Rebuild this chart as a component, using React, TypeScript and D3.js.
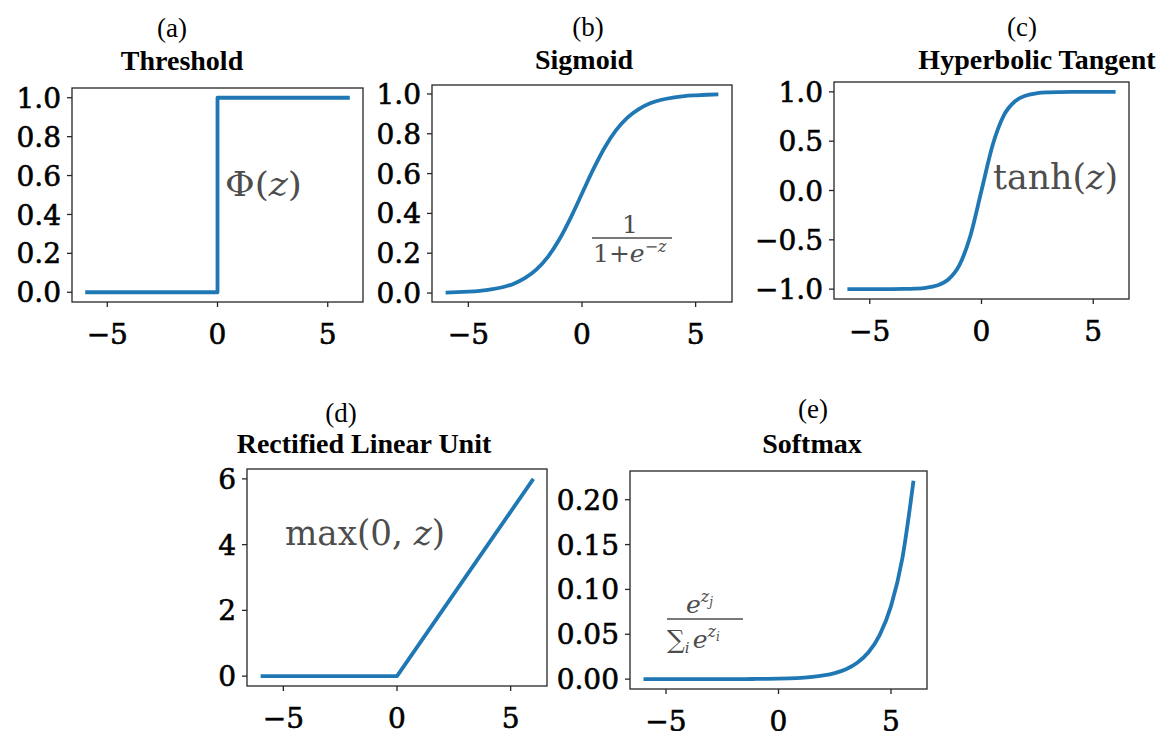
import * as d3 from "d3";

// sample grid shared by the smooth curves
const zGrid = [-6, -5.5, -5, -4.5, -4, -3.5, -3, -2.5, -2, -1.5, -1, -0.5, 0, 0.5, 1, 1.5, 2, 2.5, 3, 3.5, 4, 4.5, 5, 5.5, 6];

const thresholdZ = [-6, 0, 0, 6];
const thresholdValues = [0, 0, 1, 1];

const sigmoidValues = [0.0025, 0.0041, 0.0067, 0.011, 0.018, 0.029, 0.047, 0.076, 0.119, 0.182, 0.269, 0.378, 0.5, 0.622, 0.731, 0.818, 0.881, 0.924, 0.953, 0.971, 0.982, 0.989, 0.993, 0.996, 0.998];

const tanhValues = [-1, -1, -0.9999, -0.9998, -0.9993, -0.998, -0.995, -0.987, -0.964, -0.905, -0.762, -0.462, 0, 0.462, 0.762, 0.905, 0.964, 0.987, 0.995, 0.998, 0.9993, 0.9998, 0.9999, 1, 1];

const reluZ = [-6, 0, 6];
const reluValues = [0, 0, 6];

const softmaxValues = [0, 0, 0, 0, 0, 0, 0, 0, 0.0001, 0.0001, 0.0002, 0.0003, 0.0005, 0.0009, 0.0015, 0.0025, 0.0041, 0.0067, 0.011, 0.0182, 0.0299, 0.0494, 0.0814, 0.134, 0.221];

const xTicks = [-5, 0, 5];
const xTickLabels = ["\u22125", "0", "5"];

const unitTicks = [0, 0.2, 0.4, 0.6, 0.8, 1.0];
const unitTickLabels = ["0.0", "0.2", "0.4", "0.6", "0.8", "1.0"];
const tanhTicks = [-1, -0.5, 0, 0.5, 1];
const tanhTickLabels = ["\u22121.0", "\u22120.5", "0.0", "0.5", "1.0"];
const reluTicks = [0, 2, 4, 6];
const reluTickLabels = ["0", "2", "4", "6"];
const softmaxTicks = [0, 0.05, 0.1, 0.15, 0.2];
const softmaxTickLabels = ["0.00", "0.05", "0.10", "0.15", "0.20"];

const LINE = "#1f77b4";
const TEXT_GRAY = "#4d4d4d";
const TICK_FONT = "'DejaVu Serif', serif";
const TITLE_FONT = "'Liberation Serif', 'Times New Roman', serif";

const panels = [
  { key: "a", letter: "(a)", title: "Threshold", letterX: 172, letterY: 37, titleX: 182, titleY: 70,
    frame: [72, 88, 363, 302], yDomain: [-0.05, 1.05],
    z: thresholdZ, v: thresholdValues, curve: d3.curveLinear, yTicks: unitTicks, yLabels: unitTickLabels },
  { key: "b", letter: "(b)", title: "Sigmoid", letterX: 588, letterY: 36, titleX: 584, titleY: 69,
    frame: [432, 85, 732, 302], yDomain: [-0.045, 1.045],
    z: zGrid, v: sigmoidValues, curve: d3.curveMonotoneX, yTicks: unitTicks, yLabels: unitTickLabels },
  { key: "c", letter: "(c)", title: "Hyperbolic Tangent", letterX: 1022, letterY: 36, titleX: 1037, titleY: 69,
    frame: [834, 82, 1129, 299], yDomain: [-1.1, 1.1],
    z: zGrid, v: tanhValues, curve: d3.curveMonotoneX, yTicks: tanhTicks, yLabels: tanhTickLabels },
  { key: "d", letter: "(d)", title: "Rectified Linear Unit", letterX: 341, letterY: 422, titleX: 364, titleY: 453,
    frame: [247, 469, 547, 686], yDomain: [-0.3, 6.3],
    z: reluZ, v: reluValues, curve: d3.curveLinear, yTicks: reluTicks, yLabels: reluTickLabels },
  { key: "e", letter: "(e)", title: "Softmax", letterX: 813, letterY: 418, titleX: 812, titleY: 453,
    frame: [630, 471, 927, 689], yDomain: [-0.011, 0.232],
    z: zGrid, v: softmaxValues, curve: d3.curveMonotoneX, yTicks: softmaxTicks, yLabels: softmaxTickLabels },
];

function Panel({ p }) {
  const [x0, y0, x1, y1] = p.frame;
  const x = d3.scaleLinear().domain([-6.6, 6.6]).range([x0, x1]);
  const y = d3.scaleLinear().domain(p.yDomain).range([y1, y0]);
  const pts = p.z.map((z, i) => [z, p.v[i]]);
  const line = d3.line().x((d) => x(d[0])).y((d) => y(d[1])).curve(p.curve);

  return (
    <g>
      <text x={p.letterX} y={p.letterY} textAnchor="middle" fontFamily={TITLE_FONT} fontSize={27}>{p.letter}</text>
      <text x={p.titleX} y={p.titleY} textAnchor="middle" fontFamily={TITLE_FONT} fontSize={28} fontWeight="bold">{p.title}</text>
      <path d={line(pts)} fill="none" stroke={LINE} strokeWidth={3.8} strokeLinejoin="round" />
      <rect x={x0} y={y0} width={x1 - x0} height={y1 - y0} fill="none" stroke="#262626" strokeWidth={1.3} />
      {p.yTicks.map((t, i) => (
        <g key={"y" + i}>
          <line x1={x0 - 5} x2={x0} y1={y(t)} y2={y(t)} stroke="#262626" strokeWidth={1.3} />
          <text x={x0 - 11} y={y(t)} dy="0.36em" textAnchor="end" fontFamily={TICK_FONT} fontSize={28}
            stroke="#000" strokeWidth={0.6}>{p.yLabels[i]}</text>
        </g>
      ))}
      {xTicks.map((t, i) => (
        <g key={"x" + i}>
          <line x1={x(t)} x2={x(t)} y1={y1} y2={y1 + 5} stroke="#262626" strokeWidth={1.3} />
          <text x={x(t)} y={y1 + 42} textAnchor="middle" fontFamily={TICK_FONT} fontSize={28}
            stroke="#000" strokeWidth={0.6}>{xTickLabels[i]}</text>
        </g>
      ))}
    </g>
  );
}

export default function App() {
  return (
    <svg width={1166} height={731} style={{ position: "absolute", left: 0, top: 0, background: "#fff" }}>
      {panels.map((p) => <Panel key={p.key} p={p} />)}

      {/* formula annotations */}
      <g fill={TEXT_GRAY} fontFamily={TICK_FONT}>
        <text x={225} y={196} fontSize={34} textLength={77} lengthAdjust="spacingAndGlyphs">
          Φ(<tspan fontStyle="italic">z</tspan>)
        </text>

        <text x={630} y={233} fontSize={25} textAnchor="middle">1</text>
        <line x1={592} x2={672} y1={238} y2={238} stroke={TEXT_GRAY} strokeWidth={1.4} />
        <text x={593} y={262} fontSize={25}>
          1+<tspan fontStyle="italic">e</tspan>
          <tspan fontSize={16} dy={-10}>−<tspan fontStyle="italic">z</tspan></tspan>
        </text>

        <text x={993} y={189} fontSize={36} textLength={125} lengthAdjust="spacingAndGlyphs">
          tanh(<tspan fontStyle="italic">z</tspan>)
        </text>

        <text x={285} y={545} fontSize={36} textLength={160} lengthAdjust="spacingAndGlyphs">
          max(0, <tspan fontStyle="italic">z</tspan>)
        </text>

        <text x={686} y={613} fontSize={25}>
          <tspan fontStyle="italic">e</tspan>
          <tspan fontSize={16} dy={-11} fontStyle="italic">z</tspan>
          <tspan fontSize={12} dy={4} fontStyle="italic">j</tspan>
        </text>
        <line x1={667} x2={743} y1={619} y2={619} stroke={TEXT_GRAY} strokeWidth={1.4} />
        <text x={667} y={648} fontSize={25}>
          ∑<tspan fontSize={15} dy={5} fontStyle="italic">i</tspan>
          <tspan dy={-5} dx={3} fontStyle="italic">e</tspan>
          <tspan fontSize={16} dy={-11} fontStyle="italic">z</tspan>
          <tspan fontSize={12} dy={4} fontStyle="italic">i</tspan>
        </text>
      </g>
    </svg>
  );
}
